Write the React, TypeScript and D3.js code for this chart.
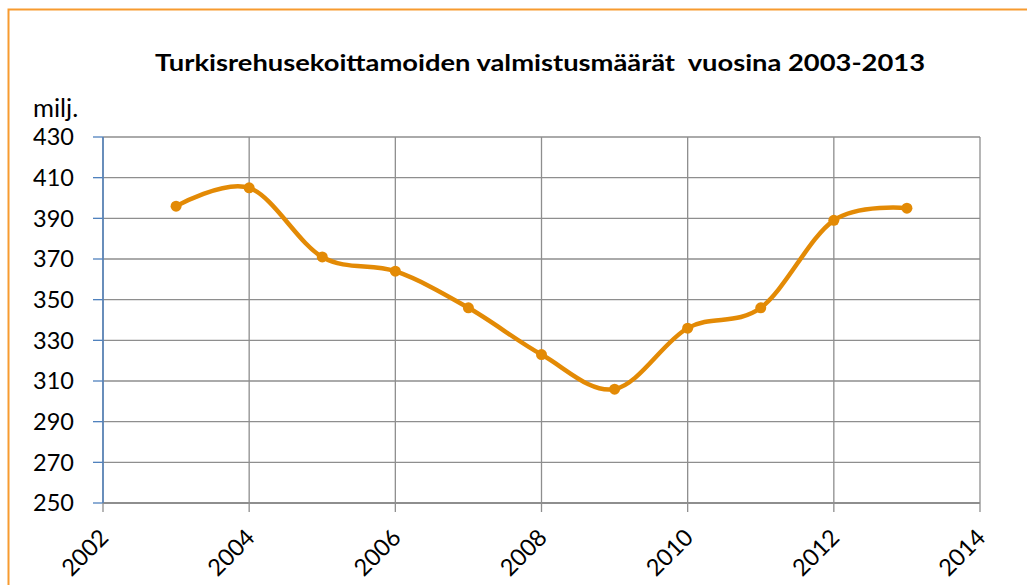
import React from "react";
import * as d3 from "d3";

const years = [2003, 2004, 2005, 2006, 2007, 2008, 2009, 2010, 2011, 2012, 2013];
const values = [396, 405, 371, 364, 346, 323, 306, 336, 346, 389, 395];
const xTicks = [2002, 2004, 2006, 2008, 2010, 2012, 2014];
const yTicks = [250, 270, 290, 310, 330, 350, 370, 390, 410, 430];
const title = "Turkisrehusekoittamoiden valmistusmäärät  vuosina 2003-2013";
const unitLabel = "milj.";

export default function App() {
  const W = 1027, H = 585;
  const left = 103, right = 980, top = 137, bottom = 503;
  const x = d3.scaleLinear().domain([2002, 2014]).range([left, right]);
  const y = d3.scaleLinear().domain([250, 430]).range([bottom, top]);
  const line = d3
    .line<number>()
    .x((_, i) => x(years[i]))
    .y((d) => y(d))
    .curve(d3.curveCatmullRom.alpha(0));
  const font = "Lato, 'Open Sans', sans-serif";
  const lineColor = "#E38A05";
  const grid = "#8E8E8E";
  return (
    <svg width={W} height={H} style={{ position: "absolute", left: 0, top: 0 }} fontFamily={font}>
      <rect x={0} y={0} width={W} height={H} fill="#fff" />
      <rect x={8.5} y={9.5} width={W + 20} height={H + 20} fill="none" stroke="#F79B30" strokeWidth={2} />
      <text x={540} y={71} textAnchor="middle" fontWeight="bold" fontSize={22} textLength={770} lengthAdjust="spacingAndGlyphs" fill="#000" style={{ whiteSpace: "pre" }}>
        {title}
      </text>
      <text x={33} y={117} fontSize={25.5} fill="#000">{unitLabel}</text>
      {yTicks.map((t) => (
        <g key={"y" + t}>
          <line x1={left} x2={right} y1={y(t)} y2={y(t)} stroke={grid} strokeWidth={t === 250 ? 2 : 1.3} />
          <line x1={left - 10} x2={left} y1={y(t)} y2={y(t)} stroke="#4F81BD" strokeWidth={1.3} />
          <text x={74} y={y(t)} dy="0.35em" textAnchor="end" fontSize={23.5} fill="#000">{t}</text>
        </g>
      ))}
      {xTicks.map((t) => (
        <g key={"x" + t}>
          <line x1={x(t)} x2={x(t)} y1={top} y2={bottom + 9} stroke={grid} strokeWidth={1.3} />
          <text
            transform={`translate(${x(t) + 7},${bottom + 36}) rotate(-45)`}
            textAnchor="end"
            fontSize={23.5}
            fill="#000"
          >
            {t}
          </text>
        </g>
      ))}
      <line x1={left} x2={left} y1={top} y2={bottom} stroke="#4F81BD" strokeWidth={1.5} />
      <path d={line(values) || ""} fill="none" stroke={lineColor} strokeWidth={4.5} strokeLinecap="round" />
      {values.map((v, i) => (
        <circle key={"p" + i} cx={x(years[i])} cy={y(v)} r={5.5} fill={lineColor} />
      ))}
    </svg>
  );
}
